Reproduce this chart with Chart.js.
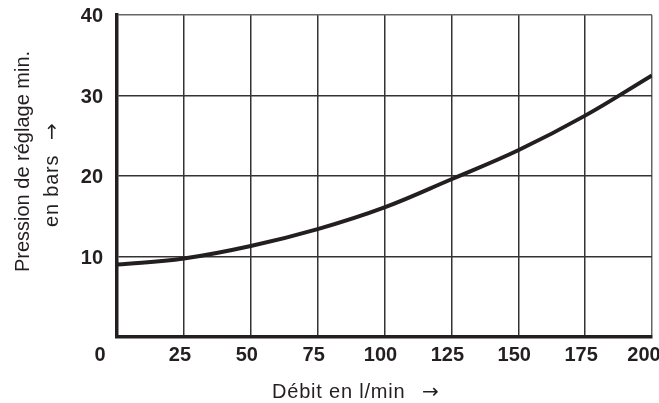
<!DOCTYPE html>
<html>
<head>
<meta charset="utf-8">
<script src="https://cdn.jsdelivr.net/npm/chart.js@4/dist/chart.umd.min.js"></script>
<style>
    body { margin: 0; background: #fff; }
    canvas { display: block; }
</style>
</head>
<body>
<canvas id="chart" width="659" height="403"></canvas>
<script>
// Values
const debit = [0, 25, 50, 75, 100, 125, 150, 175, 200];
const pression = [9.0, 9.75, 11.3, 13.4, 16.1, 19.6, 23.2, 27.5, 32.5];

// Tick labels
const xTicks = [0, 25, 50, 75, 100, 125, 150, 175, 200];
const yTicks = [10, 20, 30, 40];

const xTitle = "Débit en l/min";
const yTitle = ["Pression de réglage min.", "en bars"];
const arrow = "\u2192";

const ink = '#231f20';
const tickFont = 'bold 20px "Liberation Sans", Arial, sans-serif';
const titleFont = '20px "Liberation Sans", Arial, sans-serif';
const arrowFont = '20px "DejaVu Sans", sans-serif';

// Draws tick labels and axis titles at the positions given by the scales
const labelPlugin = {
    id: 'labels',
    afterDraw(chart) {
        const c = chart.ctx;
        const xs = chart.scales.x;
        const ys = chart.scales.y;
        c.save();
        c.fillStyle = ink;
        c.font = tickFont;
        c.textBaseline = 'middle';

        // y tick labels
        c.textAlign = 'right';
        yTicks.forEach(v => {
            c.fillText(String(v), xs.left - 14, ys.getPixelForValue(v) + 1.5);
        });

        // x tick labels
        const yy = ys.bottom + 18;
        c.textAlign = 'center';
        xTicks.forEach((v, i) => {
            let px = xs.getPixelForValue(v) - 4;
            if (i === 0) px = xs.getPixelForValue(v) - 17;
            if (i === xTicks.length - 1) px = xs.getPixelForValue(v) - 8;
            c.fillText(String(v), px, yy);
        });

        // x title
        c.textBaseline = 'alphabetic';
        c.textAlign = 'left';
        c.font = titleFont;
        c.letterSpacing = '0.8px';
        c.fillText(xTitle, 272, 398);
        c.letterSpacing = '0px';
        c.font = arrowFont;
        c.fillText(arrow, 422, 398);

        // y title, first line
        c.save();
        c.translate(29, 161.5);
        c.rotate(-Math.PI / 2);
        c.textAlign = 'center';
        c.font = titleFont;
        c.fillText(yTitle[0], 0, 0);
        c.restore();

        // y title, second line with arrow
        c.save();
        c.translate(58, 227);
        c.rotate(-Math.PI / 2);
        c.textAlign = 'left';
        c.font = titleFont;
        c.letterSpacing = '0.8px';
        c.fillText(yTitle[1], 0, 0);
        c.letterSpacing = '0px';
        c.font = arrowFont;
        c.fillText(arrow, 87, 0);
        c.restore();

        c.restore();
    }
};

const ctx = document.getElementById('chart').getContext('2d');

const chart = new Chart(ctx, {
    type: 'line',
    data: {
        datasets: [{
            data: debit.map((d, i) => ({ x: d, y: pression[i] })),
            borderColor: ink,
            borderWidth: 4,
            pointRadius: 0,
            fill: false,
            tension: 0.4
        }]
    },
    options: {
        responsive: false,
        animation: false,
        devicePixelRatio: 1,
        layout: {
            padding: { left: 117, top: 15, right: 7, bottom: 66 }
        },
        plugins: {
            legend: { display: false },
            tooltip: { enabled: false }
        },
        scales: {
            x: {
                type: 'linear',
                min: 0,
                max: 200,
                ticks: { display: false, stepSize: 25 },
                grid: {
                    drawTicks: false,
                    color: ctx => ctx.tick && ctx.tick.value === 200 ? '#666' : '#333',
                    lineWidth: 1.5
                },
                border: { color: ink, width: 3.5 }
            },
            y: {
                min: 0,
                max: 40,
                ticks: { display: false, stepSize: 10 },
                grid: {
                    drawTicks: false,
                    color: ctx => ctx.tick && ctx.tick.value === 40 ? '#666' : '#333',
                    lineWidth: 1.5
                },
                border: { color: ink, width: 3.5 }
            }
        }
    },
    plugins: [labelPlugin]
});
</script>
</body>
</html>
